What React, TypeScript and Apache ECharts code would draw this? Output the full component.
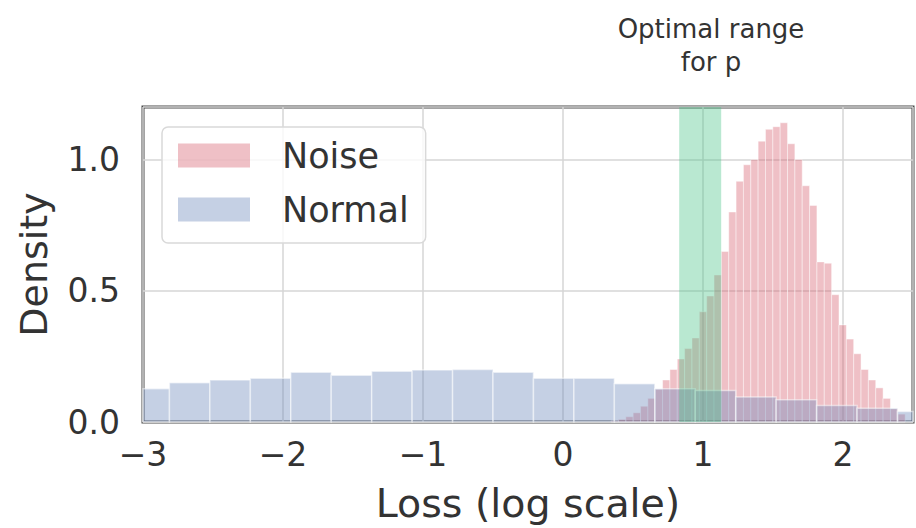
import React, { useEffect, useRef } from 'react';
import * as echarts from 'echarts';

// ---- data ----
const SERIES_NAMES = ['Noise', 'Normal'];
const X_TICKS = [-3, -2, -1, 0, 1, 2];
const Y_TICKS = [0, 0.5, 1.0];

// "Normal" histogram: wide bins
const NORMAL_BIN_START = -3.1;
const NORMAL_BIN_WIDTH = 0.2889;
const normalDensity = [
  0.127, 0.150, 0.160, 0.167, 0.190, 0.178, 0.193, 0.198, 0.200, 0.190,
  0.167, 0.167, 0.146, 0.127, 0.120, 0.095, 0.085, 0.063, 0.052, 0.040,
];

// "Noise" histogram: narrow bins
const NOISE_BIN_START = 0.3438;
const NOISE_BIN_WIDTH = 0.0525;
const noiseDensity = [
  0.005, 0.010, 0.020, 0.035, 0.060, 0.090, 0.125, 0.160, 0.200, 0.240,
  0.280, 0.320, 0.420, 0.480, 0.560, 0.650, 0.800, 0.917, 0.980, 1.000,
  1.070, 1.115, 1.125, 1.140, 1.060, 1.000, 0.900, 0.825, 0.610, 0.605,
  0.485, 0.370, 0.316, 0.260, 0.200, 0.160, 0.130, 0.090, 0.050, 0.030,
];

// highlighted band on the x axis
const OPTIMAL_RANGE = [0.83, 1.13];
const TITLE_LINES = ['Optimal range', 'for p'];
const X_NAME = 'Loss (log scale)';
const Y_NAME = 'Density';

const X_MIN = -3;
const X_MAX = 2.5;
const Y_MIN = 0;
const Y_MAX = 1.2;

const NOISE_COLOR = 'rgba(215, 97, 112, 0.4)';
const NORMAL_COLOR = 'rgba(110, 137, 187, 0.4)';
const BAND_COLOR = 'rgba(70, 195, 135, 0.38)';
const TEXT_COLOR = '#333333';
const FONT = '"DejaVu Sans", sans-serif';

function toBins(start: number, width: number, values: number[]) {
  return values.map((v, i) => [start + i * width, start + (i + 1) * width, v]);
}

function histRender(fill: string, stroke: string, lw: number) {
  return (params: any, api: any) => {
    const x0 = api.value(0);
    const x1 = api.value(1);
    const h = api.value(2);
    const p0 = api.coord([x0, 0]);
    const p1 = api.coord([x1, h]);
    const cs = params.coordSys;
    const left = Math.max(p0[0], cs.x);
    const right = Math.min(p1[0], cs.x + cs.width);
    if (right <= left) return null;
    return {
      type: 'rect',
      shape: { x: left, y: p1[1], width: right - left, height: p0[1] - p1[1] },
      style: { fill, stroke, lineWidth: lw },
    };
  };
}

export default function App() {
  const ref = useRef<HTMLDivElement>(null);

  useEffect(() => {
    if (!ref.current) return;
    const chart = echarts.init(ref.current, undefined, { renderer: 'svg' });

    const titleStyle = (text: string) => ({
      text,
      font: '26px ' + FONT,
      fill: TEXT_COLOR,
      textAlign: 'center',
      textVerticalAlign: 'middle',
      align: 'center',
      verticalAlign: 'middle',
    });

    const option: any = {
      animation: false,
      backgroundColor: '#ffffff',
      grid: {
        left: 143,
        top: 107,
        bottom: 104.6,
        right: -12,
        show: true,
        borderColor: '#4a4a4a',
        borderWidth: 3,
        backgroundColor: 'transparent',
      },
      xAxis: {
        type: 'value',
        min: X_MIN,
        max: X_MAX,
        interval: 1,
        name: X_NAME,
        nameLocation: 'middle',
        nameGap: 61,
        nameTextStyle: { fontSize: 39.5, fontFamily: FONT, color: TEXT_COLOR },
        axisLine: { show: false },
        axisTick: { show: false },
        axisLabel: {
          fontSize: 33,
          fontFamily: FONT,
          color: TEXT_COLOR,
          margin: 16,
          formatter: (v: number) =>
            X_TICKS.includes(v) ? (v < 0 ? '\u2212' + Math.abs(v) : String(v)) : '',
        },
        splitLine: { show: true, lineStyle: { color: '#d6d6d6', width: 1.5 } },
      },
      yAxis: {
        type: 'value',
        min: Y_MIN,
        max: Y_MAX,
        interval: 0.5,
        name: Y_NAME,
        nameLocation: 'middle',
        nameGap: 90,
        nameTextStyle: { fontSize: 38, fontFamily: FONT, color: TEXT_COLOR },
        axisLine: { show: false },
        axisTick: { show: false },
        axisLabel: {
          fontSize: 33,
          fontFamily: FONT,
          color: TEXT_COLOR,
          margin: 23,
          formatter: (v: number) =>
            Y_TICKS.some((t) => Math.abs(t - v) < 1e-6) ? v.toFixed(1) : '',
        },
        splitLine: { show: true, lineStyle: { color: '#d6d6d6', width: 1.5 } },
      },
      legend: {
        data: SERIES_NAMES,
        orient: 'vertical',
        left: 162,
        top: 127,
        icon: 'rect',
        itemWidth: 72,
        itemHeight: 24,
        itemGap: 19,
        padding: [11, 17, 16, 16],
        backgroundColor: 'rgba(255,255,255,0.8)',
        borderColor: '#d9d9d9',
        borderWidth: 1.5,
        borderRadius: 6,
        textStyle: {
          fontSize: 35,
          fontFamily: FONT,
          color: TEXT_COLOR,
          padding: [0, 0, 0, 27],
        },
      },
      graphic: [
        { type: 'text', x: 711, y: 29, style: titleStyle(TITLE_LINES[0]) },
        { type: 'text', x: 711, y: 62, style: titleStyle(TITLE_LINES[1]) },
      ],
      series: [
        {
          name: SERIES_NAMES[0],
          type: 'custom',
          itemStyle: { color: NOISE_COLOR },
          encode: { x: [0, 1], y: 2 },
          renderItem: histRender(NOISE_COLOR, 'rgba(255,255,255,0.45)', 1),
          data: toBins(NOISE_BIN_START, NOISE_BIN_WIDTH, noiseDensity),
          z: 2,
        },
        {
          name: SERIES_NAMES[1],
          type: 'custom',
          itemStyle: { color: NORMAL_COLOR },
          encode: { x: [0, 1], y: 2 },
          renderItem: histRender(NORMAL_COLOR, 'rgba(255,255,255,0.5)', 1.5),
          data: toBins(NORMAL_BIN_START, NORMAL_BIN_WIDTH, normalDensity),
          z: 3,
        },
        {
          name: 'Optimal range',
          type: 'custom',
          encode: { x: [0, 1] },
          renderItem: (params: any, api: any) => {
            const p0 = api.coord([api.value(0), Y_MIN]);
            const p1 = api.coord([api.value(1), Y_MAX]);
            return {
              type: 'rect',
              shape: { x: p0[0], y: p1[1], width: p1[0] - p0[0], height: p0[1] - p1[1] },
              style: { fill: BAND_COLOR },
            };
          },
          data: [OPTIMAL_RANGE],
          z: 4,
        },
      ],
    };

    chart.setOption(option);
    return () => chart.dispose();
  }, []);

  return (
    <div
      ref={ref}
      style={{ position: 'absolute', left: 0, top: 0, width: 916, height: 528 }}
    />
  );
}
